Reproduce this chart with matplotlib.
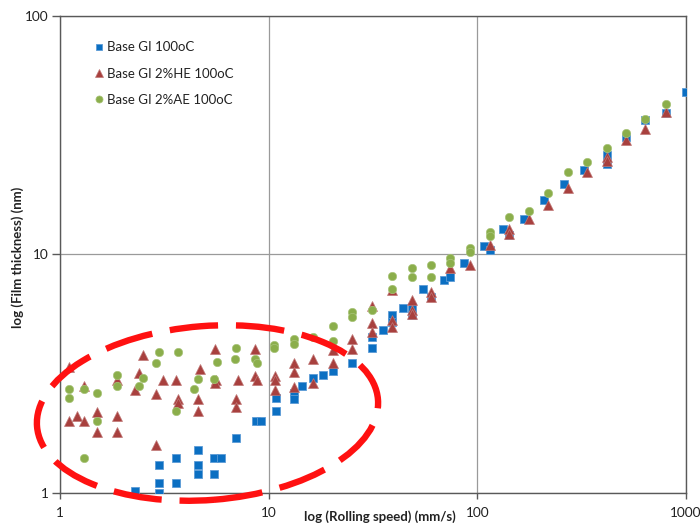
import matplotlib
matplotlib.use('Agg')
import matplotlib.pyplot as plt
from matplotlib.patches import Ellipse
from matplotlib.transforms import IdentityTransform
from matplotlib.ticker import NullLocator

plt.rcParams['font.family'] = ['Lato', 'DejaVu Sans']

# ---------------- data ----------------
series_labels = ['Base GI 100oC', 'Base GI 2%HE 100oC', 'Base GI 2%AE 100oC']

blue_x = [2.29, 2.98, 2.98, 2.98, 3.59, 3.59, 4.57, 4.57, 4.57, 5.50, 5.89, 5.50,
          7.00, 8.67, 9.16, 10.8, 10.8, 13.2, 13.2, 14.5, 16.4, 18.2, 20.3, 25.2,
          31.4, 31.4, 35.5, 39.0, 39.0, 43.9, 48.5, 48.5, 55.2, 59.8, 69.0, 74.3,
          86.0, 108, 115, 133, 142, 167, 209, 261, 326, 417, 417, 518, 637, 798, 997]
blue_y = [1.01, 1.30, 1.10, 1.00, 1.40, 1.10, 1.51, 1.30, 1.20, 1.40, 1.40, 1.20,
          1.70, 2.00, 2.00, 2.50, 2.20, 2.61, 2.48, 2.80, 3.01, 3.11, 3.23, 3.50,
          4.50, 4.05, 4.80, 5.55, 5.21, 5.92, 6.02, 5.55, 7.12, 6.63, 7.79, 7.99,
          9.15, 10.8, 10.4, 12.8, 12.0, 14.1, 16.9, 19.8, 22.5, 26.1, 23.9, 31.1,
          36.5, 39.0, 48.0]

red_x = [1.10, 1.30, 1.20, 1.10, 1.30, 1.50, 1.50, 1.88, 1.88, 1.88, 2.40, 2.29,
         2.50, 2.89, 2.89, 3.10, 3.59, 3.67, 3.67, 4.57, 4.57, 4.71, 5.51, 5.60,
         5.55, 7.00, 7.00, 7.13, 8.57, 8.57, 8.77, 10.7, 10.7, 10.7, 13.2, 13.2,
         13.2, 16.4, 16.4, 20.3, 20.3, 25.2, 25.2, 31.4, 31.4, 31.4, 39.0, 39.0,
         39.0, 48.5, 48.5, 48.5, 59.8, 59.8, 74.3, 92.6, 115, 142, 142, 176, 217,
         272, 337, 417, 417, 518, 637, 798]
red_y = [3.37, 2.80, 2.09, 2.00, 2.00, 2.18, 1.80, 2.96, 2.09, 1.80, 3.18, 2.69,
         3.77, 2.58, 1.59, 2.98, 2.98, 2.48, 2.38, 2.48, 2.20, 3.29, 4.00, 2.96,
         2.87, 2.48, 2.29, 2.98, 4.00, 3.09, 2.96, 3.09, 2.96, 2.69, 3.50, 3.19,
         2.78, 3.62, 2.89, 3.96, 3.48, 4.39, 3.99, 6.06, 5.13, 4.73, 7.07, 5.29,
         4.96, 6.42, 5.83, 5.61, 6.96, 6.63, 8.72, 9.00, 10.9, 12.8, 12.2, 14.0,
         16.1, 18.9, 22.2, 25.6, 24.6, 30.1, 33.7, 39.6]

green_x = [1.10, 1.10, 1.30, 1.30, 1.50, 1.50, 1.88, 1.88, 2.40, 2.50, 2.98, 2.89,
           3.67, 3.59, 4.38, 4.57, 5.50, 5.66, 7.00, 6.88, 8.57, 8.77, 10.6, 10.6,
           13.2, 13.2, 16.4, 20.3, 20.3, 25.2, 25.2, 31.4, 39.0, 39.0, 48.5, 48.5,
           59.8, 59.8, 74.3, 74.3, 92.6, 92.6, 115, 115, 142, 176, 217, 272, 337,
           417, 518, 637, 798]
green_y = [2.71, 2.50, 2.71, 1.40, 2.61, 2.00, 3.11, 2.80, 2.80, 3.01, 3.88, 3.50,
           3.88, 2.20, 2.71, 3.00, 3.00, 3.52, 4.03, 3.62, 3.62, 3.48, 4.16, 4.03,
           4.39, 4.20, 4.50, 4.99, 4.33, 5.73, 5.46, 5.83, 8.09, 7.12, 8.72, 8.04,
           9.00, 8.04, 9.60, 9.15, 10.6, 10.2, 12.4, 11.9, 14.3, 15.2, 18.0, 22.2,
           24.4, 27.8, 32.3, 37.1, 42.9]

x_ticks = [1, 10, 100, 1000]
x_tick_labels = ['1', '10', '100', '1000']
y_ticks = [1, 10, 100]
y_tick_labels = ['1', '10', '100']

x_label = 'log (Rolling speed) (mm/s)'
y_label = 'log (Film thickness) (nm)'

# ---------------- figure ----------------
W, H = 700, 523
fig = plt.figure(figsize=(W / 100, H / 100), dpi=100)
ax = fig.add_axes([60 / W, (H - 492.5) / H, 626 / W, 476.5 / H])

axis_col = '#595959'
ax.plot(blue_x, blue_y, ls='none', marker='s', ms=5.9, color='#0B6FC2',
        mec='#5C9BD6', mew=0.6, label=series_labels[0], zorder=3)
ax.plot(red_x, red_y, ls='none', marker='^', ms=6.6, color='#A8403E',
        mec='#C07877', mew=0.5, label=series_labels[1], zorder=4)
ax.plot(green_x, green_y, ls='none', marker='o', ms=6.0, color='#8BAE4B',
        mec='#A9C47A', mew=0.5, label=series_labels[2], zorder=5)

ax.set_xscale('log')
ax.set_yscale('log')
ax.set_xlim(1, 1000)
ax.set_ylim(1, 100)
ax.set_xticks(x_ticks)
ax.set_xticklabels(x_tick_labels)
ax.set_yticks(y_ticks)
ax.set_yticklabels(y_tick_labels)
ax.xaxis.set_minor_locator(NullLocator())
ax.yaxis.set_minor_locator(NullLocator())

ax.grid(True, which='major', color='#9a9a9a', lw=0.9, zorder=0)
ax.set_axisbelow(True)
for s in ax.spines.values():
    s.set_color(axis_col)
    s.set_linewidth(1.0)

ax.tick_params(axis='x', direction='out', length=4, width=1, color=axis_col,
               labelsize=9.8, pad=6.5, labelcolor='#222222')
ax.tick_params(axis='y', direction='out', length=6, width=1, color=axis_col,
               labelsize=9.8, pad=2, labelcolor='#222222')

ax.set_xlabel(x_label, fontsize=9.5, fontweight='bold', color='#222222')
ax.xaxis.set_label_coords(0.511, -0.051)
ax.xaxis.label.set_va('center')
ax.set_ylabel(y_label, fontsize=9.5, fontweight='bold', color='#222222')
ax.yaxis.set_label_coords(-0.067, 0.494)
ax.yaxis.label.set_va('center')

leg = ax.legend(loc='upper left', bbox_to_anchor=(0.043, 0.958), frameon=False,
                fontsize=9.5, labelspacing=1.08, handletextpad=0.1,
                handlelength=1.0, markerscale=0.85, borderaxespad=0)
for t in leg.get_texts():
    t.set_color('#222222')

# red dashed ellipse annotation (drawn in pixel space)
ell = Ellipse((207.5, H - 413), width=342, height=174, angle=4.5,
              transform=IdentityTransform(), fill=False, edgecolor='#FF1111',
              lw=4.6, linestyle=(0, (7.6, 2.8)), zorder=10, clip_on=False)
fig.add_artist(ell)

fig.savefig('out.png', dpi=100)
